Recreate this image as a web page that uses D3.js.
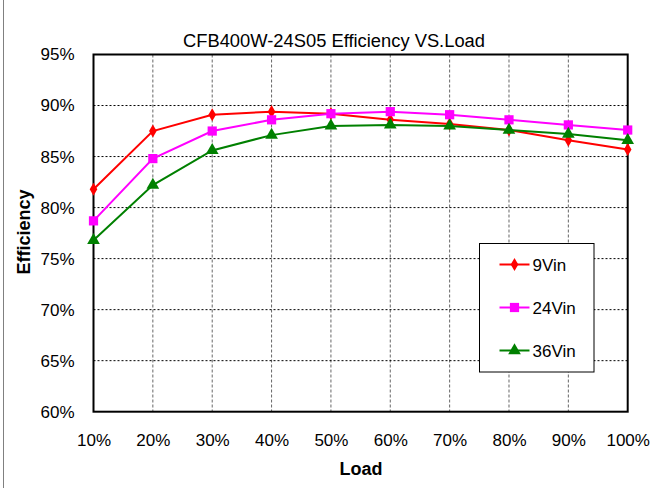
<!DOCTYPE html>
<html>
<head>
<meta charset="utf-8">
<script src="https://cdn.jsdelivr.net/npm/d3@7"></script>
<style>
  body { margin: 0; background: #fff; }
  svg { display: block; font-family: Arial, "Liberation Sans", sans-serif; }
</style>
</head>
<body>
<svg id="chart" width="653" height="488"></svg>
<script>
// data
var loads = [10, 20, 30, 40, 50, 60, 70, 80, 90, 100];
var eff9Vin  = [81.8, 87.5, 89.1, 89.4, 89.2, 88.6, 88.2, 87.6, 86.6, 85.7];
var eff24Vin = [78.7, 84.8, 87.5, 88.6, 89.2, 89.4, 89.1, 88.6, 88.1, 87.6];
var eff36Vin = [76.8, 82.2, 85.6, 87.1, 88.0, 88.1, 88.0, 87.6, 87.2, 86.6];
var yTicks = [60, 65, 70, 75, 80, 85, 90, 95];

var series = [
  { name: '9Vin',  values: eff9Vin,  color: '#ff0000', symbol: d3.symbolDiamond,  size: 50 },
  { name: '24Vin', values: eff24Vin, color: '#ff00ff', symbol: d3.symbolSquare,   size: 85 },
  { name: '36Vin', values: eff36Vin, color: '#008000', symbol: d3.symbolTriangle, size: 70 }
];

var svg = d3.select('#chart');

var plot = { left: 93.5, top: 54.5, right: 627.7, bottom: 411.7 };

var x = d3.scaleLinear().domain([10, 100]).range([plot.left, plot.right]);
var y = d3.scaleLinear().domain([60, 95]).range([plot.bottom, plot.top]);

// outer chart border (only left edge visible in the reference)
svg.append('line')
  .attr('x1', 3.5).attr('x2', 3.5).attr('y1', 0).attr('y2', 488)
  .attr('stroke', '#808080').attr('stroke-width', 1);

/**
 * Gridlines
 */
svg.append('g')
  .selectAll('line')
  .data(loads.slice(1, -1))
  .enter()
  .append('line')
  .attr('x1', function (d) { return x(d); })
  .attr('x2', function (d) { return x(d); })
  .attr('y1', plot.top).attr('y2', plot.bottom)
  .attr('stroke', '#666').attr('stroke-width', 1)
  .attr('stroke-dasharray', '3,2');

svg.append('g')
  .selectAll('line')
  .data(yTicks.slice(1, -1))
  .enter()
  .append('line')
  .attr('x1', plot.left).attr('x2', plot.right)
  .attr('y1', function (d) { return y(d); })
  .attr('y2', function (d) { return y(d); })
  .attr('stroke', '#000').attr('stroke-width', 1)
  .attr('stroke-dasharray', '2,2');

// plot frame
svg.append('rect')
  .attr('x', plot.left).attr('y', plot.top)
  .attr('width', plot.right - plot.left)
  .attr('height', plot.bottom - plot.top)
  .attr('fill', 'none').attr('stroke', '#000').attr('stroke-width', 2);

/**
 * Axes
 */
var xAxis = d3.axisBottom(x)
  .tickValues(loads)
  .tickSize(0)
  .tickPadding(22)
  .tickFormat(function (d) { return d + '%'; });

var yAxis = d3.axisLeft(y)
  .tickValues(yTicks)
  .tickSize(0)
  .tickPadding(19)
  .tickFormat(function (d) { return d + '%'; });

var gx = svg.append('g')
  .attr('transform', 'translate(0,' + plot.bottom + ')')
  .call(xAxis);
var gy = svg.append('g')
  .attr('transform', 'translate(' + plot.left + ',0)')
  .call(yAxis);

[gx, gy].forEach(function (g) {
  g.select('.domain').remove();
  g.selectAll('text')
    .attr('fill', '#000')
    .style('font-size', '17px')
    .style('font-family', 'Arial, "Liberation Sans", sans-serif');
});

/**
 * Series
 */
var line = d3.line()
  .x(function (d, i) { return x(loads[i]); })
  .y(function (d) { return y(d); });

var seriesG = svg.append('g')
  .selectAll('g.series')
  .data(series)
  .enter()
  .append('g')
  .attr('class', 'series');

seriesG.append('path')
  .attr('d', function (s) { return line(s.values); })
  .attr('fill', 'none')
  .attr('stroke', function (s) { return s.color; })
  .attr('stroke-width', 2);

seriesG.selectAll('path.marker')
  .data(function (s) {
    return s.values.map(function (v, i) { return { s: s, v: v, load: loads[i] }; });
  })
  .enter()
  .append('path')
  .attr('class', 'marker')
  .attr('d', function (d) { return d3.symbol().type(d.s.symbol).size(d.s.size)(); })
  .attr('transform', function (d) {
    return 'translate(' + x(d.load) + ',' + y(d.v) + ')';
  })
  .attr('fill', function (d) { return d.s.color; });

/**
 * Legend
 */
var legend = svg.append('g').attr('transform', 'translate(479.5,243.5)');

legend.append('rect')
  .attr('width', 114.5).attr('height', 128.5)
  .attr('fill', '#fff').attr('stroke', '#000').attr('stroke-width', 1);

var legendItem = legend.selectAll('g.item')
  .data(series)
  .enter()
  .append('g')
  .attr('class', 'item')
  .attr('transform', function (d, i) { return 'translate(0,' + (21 + i * 43) + ')'; });

legendItem.append('line')
  .attr('x1', 20).attr('x2', 50)
  .attr('stroke', function (d) { return d.color; })
  .attr('stroke-width', 2);

legendItem.append('path')
  .attr('d', function (d) { return d3.symbol().type(d.symbol).size(d.size)(); })
  .attr('transform', 'translate(35,0)')
  .attr('fill', function (d) { return d.color; });

legendItem.append('text')
  .attr('x', 53).attr('y', 6)
  .style('font-size', '17px')
  .text(function (d) { return d.name; });

/**
 * Titles
 */
svg.append('text')
  .attr('x', 334).attr('y', 47)
  .attr('text-anchor', 'middle')
  .attr('textLength', 302)
  .attr('lengthAdjust', 'spacingAndGlyphs')
  .style('font-size', '18px')
  .text('CFB400W-24S05 Efficiency VS.Load');

svg.append('text')
  .attr('x', 361).attr('y', 475)
  .attr('text-anchor', 'middle')
  .style('font-size', '18px')
  .style('font-weight', 'bold')
  .text('Load');

svg.append('text')
  .attr('transform', 'translate(30,232) rotate(-90)')
  .attr('text-anchor', 'middle')
  .style('font-size', '18px')
  .style('font-weight', 'bold')
  .text('Efficiency');
</script>
</body>
</html>
